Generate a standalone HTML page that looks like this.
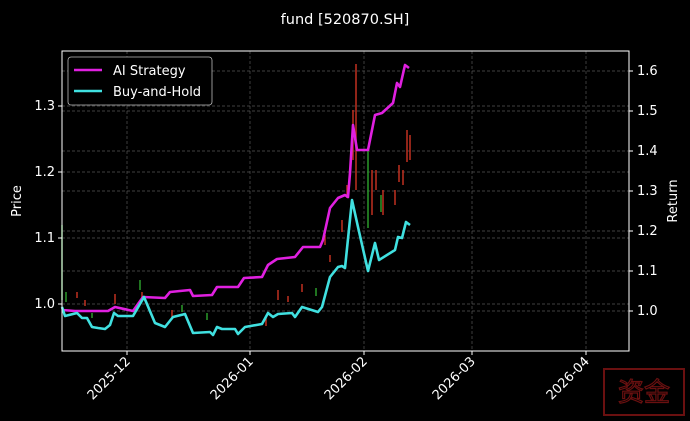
<!DOCTYPE html>
<html><head><meta charset="utf-8"><style>body{margin:0;background:#000}svg{display:block}</style></head><body>
<svg width="690" height="421" xmlns="http://www.w3.org/2000/svg" font-family="DejaVu Sans, Liberation Sans, sans-serif" fill="#fff">
<rect width="690" height="421" fill="#000"/>
<text x="345" y="24" font-size="14.5" text-anchor="middle">fund [520870.SH]</text>
<g stroke="#555" stroke-width="0.7" stroke-dasharray="3,2">
<line x1="127" y1="51" x2="127" y2="351"/><line x1="250" y1="51" x2="250" y2="351"/><line x1="364" y1="51" x2="364" y2="351"/><line x1="472" y1="51" x2="472" y2="351"/><line x1="586" y1="51" x2="586" y2="351"/>
<line x1="62" y1="304" x2="629" y2="304"/><line x1="62" y1="238" x2="629" y2="238"/><line x1="62" y1="172" x2="629" y2="172"/><line x1="62" y1="106" x2="629" y2="106"/>
<line x1="62" y1="311" x2="629" y2="311"/><line x1="62" y1="271" x2="629" y2="271"/><line x1="62" y1="231" x2="629" y2="231"/><line x1="62" y1="191" x2="629" y2="191"/><line x1="62" y1="151" x2="629" y2="151"/><line x1="62" y1="111" x2="629" y2="111"/><line x1="62" y1="71" x2="629" y2="71"/>
</g>
<g stroke-width="1.5">
<line x1="62" y1="225" x2="62" y2="300" stroke="#2a9a2a"/>
<line x1="66" y1="292" x2="66" y2="302" stroke="#2a9a2a"/>
<line x1="77" y1="292" x2="77" y2="298" stroke="#c03020"/>
<line x1="85" y1="300" x2="85" y2="306" stroke="#c03020"/>
<line x1="92" y1="313" x2="92" y2="318" stroke="#2a9a2a"/>
<line x1="115" y1="294" x2="115" y2="304" stroke="#c03020"/>
<line x1="140" y1="280" x2="140" y2="290" stroke="#2a9a2a"/>
<line x1="142" y1="292" x2="142" y2="300" stroke="#c03020"/>
<line x1="172" y1="310" x2="172" y2="318" stroke="#c03020"/>
<line x1="182" y1="305" x2="182" y2="312" stroke="#2a9a2a"/>
<line x1="207" y1="313" x2="207" y2="320" stroke="#2a9a2a"/>
<line x1="266" y1="318" x2="266" y2="326" stroke="#c03020"/>
<line x1="278" y1="290" x2="278" y2="300" stroke="#c03020"/>
<line x1="288" y1="296" x2="288" y2="302" stroke="#c03020"/>
<line x1="302" y1="284" x2="302" y2="292" stroke="#c03020"/>
<line x1="316" y1="288" x2="316" y2="296" stroke="#2a9a2a"/>
<line x1="325" y1="235" x2="325" y2="245" stroke="#c03020"/>
<line x1="330" y1="255" x2="330" y2="262" stroke="#c03020"/>
<line x1="342" y1="220" x2="342" y2="232" stroke="#c03020"/>
<line x1="347" y1="185" x2="347" y2="198" stroke="#c03020"/>
<line x1="353" y1="110" x2="353" y2="160" stroke="#c03020"/>
<line x1="356" y1="64" x2="356" y2="190" stroke="#c03020"/>
<line x1="368" y1="150" x2="368" y2="228" stroke="#2a9a2a"/>
<line x1="372" y1="170" x2="372" y2="215" stroke="#c03020"/>
<line x1="376" y1="170" x2="376" y2="190" stroke="#c03020"/>
<line x1="381" y1="195" x2="381" y2="212" stroke="#2a9a2a"/>
<line x1="383" y1="190" x2="383" y2="215" stroke="#c03020"/>
<line x1="395" y1="190" x2="395" y2="205" stroke="#c03020"/>
<line x1="399" y1="165" x2="399" y2="182" stroke="#c03020"/>
<line x1="403" y1="170" x2="403" y2="185" stroke="#c03020"/>
<line x1="407" y1="130" x2="407" y2="162" stroke="#c03020"/>
<line x1="410" y1="135" x2="410" y2="160" stroke="#c03020"/>
</g>
<polyline fill="none" stroke="#e020e0" stroke-width="2.6" stroke-linejoin="round" points="62,310 75,311 108,311 115,307 133,311 143,297 165,298 170,292 190,290 193,296 212,295 217,287 238,287 244,278 262,277 268,265 277,259 295,257 303,247 320,247 323,240 330,208 338,198 345,195 348,197 350,173 353,125 357,150 368,150 375,115 382,113 393,103 397,83 400,87 405,65 409,68"/>
<polyline fill="none" stroke="#40e0e0" stroke-width="2.6" stroke-linejoin="round" points="62,307 65,316 77,313 82,318 87,318 92,327 98,328 105,329 110,325 114,313 118,316 133,316 144,297 155,323 165,327 173,317 185,314 193,333 210,332 213,335 217,327 222,329 235,329 238,334 245,327 262,324 268,313 273,317 278,314 292,313 295,317 302,307 318,312 322,307 330,277 338,267 342,266 345,268 352,200 358,227 368,271 375,243 379,260 395,250 398,237 402,238 406,222 410,225"/>
<rect x="62" y="51" width="567" height="300" fill="none" stroke="#fff" stroke-width="1"/>
<g stroke="#fff"><line x1="58" y1="304" x2="62" y2="304"/><line x1="58" y1="238" x2="62" y2="238"/><line x1="58" y1="172" x2="62" y2="172"/><line x1="58" y1="106" x2="62" y2="106"/>
<line x1="629" y1="311" x2="633" y2="311"/><line x1="629" y1="271" x2="633" y2="271"/><line x1="629" y1="231" x2="633" y2="231"/><line x1="629" y1="191" x2="633" y2="191"/><line x1="629" y1="151" x2="633" y2="151"/><line x1="629" y1="111" x2="633" y2="111"/><line x1="629" y1="71" x2="633" y2="71"/>
<line x1="127" y1="351" x2="127" y2="355"/><line x1="250" y1="351" x2="250" y2="355"/><line x1="364" y1="351" x2="364" y2="355"/><line x1="472" y1="351" x2="472" y2="355"/><line x1="586" y1="351" x2="586" y2="355"/></g>
<g font-size="13" text-anchor="end"><text x="55" y="308">1.0</text><text x="55" y="242">1.1</text><text x="55" y="176">1.2</text><text x="55" y="110">1.3</text></g>
<g font-size="13"><text x="637" y="315">1.0</text><text x="637" y="275">1.1</text><text x="637" y="235">1.2</text><text x="637" y="195">1.3</text><text x="637" y="155">1.4</text><text x="637" y="115">1.5</text><text x="637" y="75">1.6</text></g>
<g font-size="13" text-anchor="end">
<text transform="translate(131,362) rotate(-45)">2025-12</text>
<text transform="translate(254,362) rotate(-45)">2026-01</text>
<text transform="translate(368,362) rotate(-45)">2026-02</text>
<text transform="translate(476,362) rotate(-45)">2026-03</text>
<text transform="translate(590,362) rotate(-45)">2026-04</text></g>
<text transform="translate(21,201) rotate(-90)" font-size="13" text-anchor="middle">Price</text>
<text transform="translate(677,201) rotate(-90)" font-size="13" text-anchor="middle">Return</text>
<rect x="68" y="57" width="144" height="48" rx="3" fill="#000" stroke="#bbb" stroke-width="0.8"/>
<line x1="74" y1="70" x2="102" y2="70" stroke="#e020e0" stroke-width="2.6"/>
<line x1="74" y1="91" x2="102" y2="91" stroke="#40e0e0" stroke-width="2.6"/>
<text x="113" y="75" font-size="13">AI Strategy</text>
<text x="113" y="96" font-size="13">Buy-and-Hold</text>
<rect x="604" y="369" width="80" height="46" fill="#000" stroke="#6a1010" stroke-width="2"/>
<text x="644" y="401" font-size="26" fill="none" stroke="#6a1010" stroke-width="1.2" text-anchor="middle" font-family="Noto Sans CJK SC, sans-serif">资金</text>
</svg>
</body></html>
